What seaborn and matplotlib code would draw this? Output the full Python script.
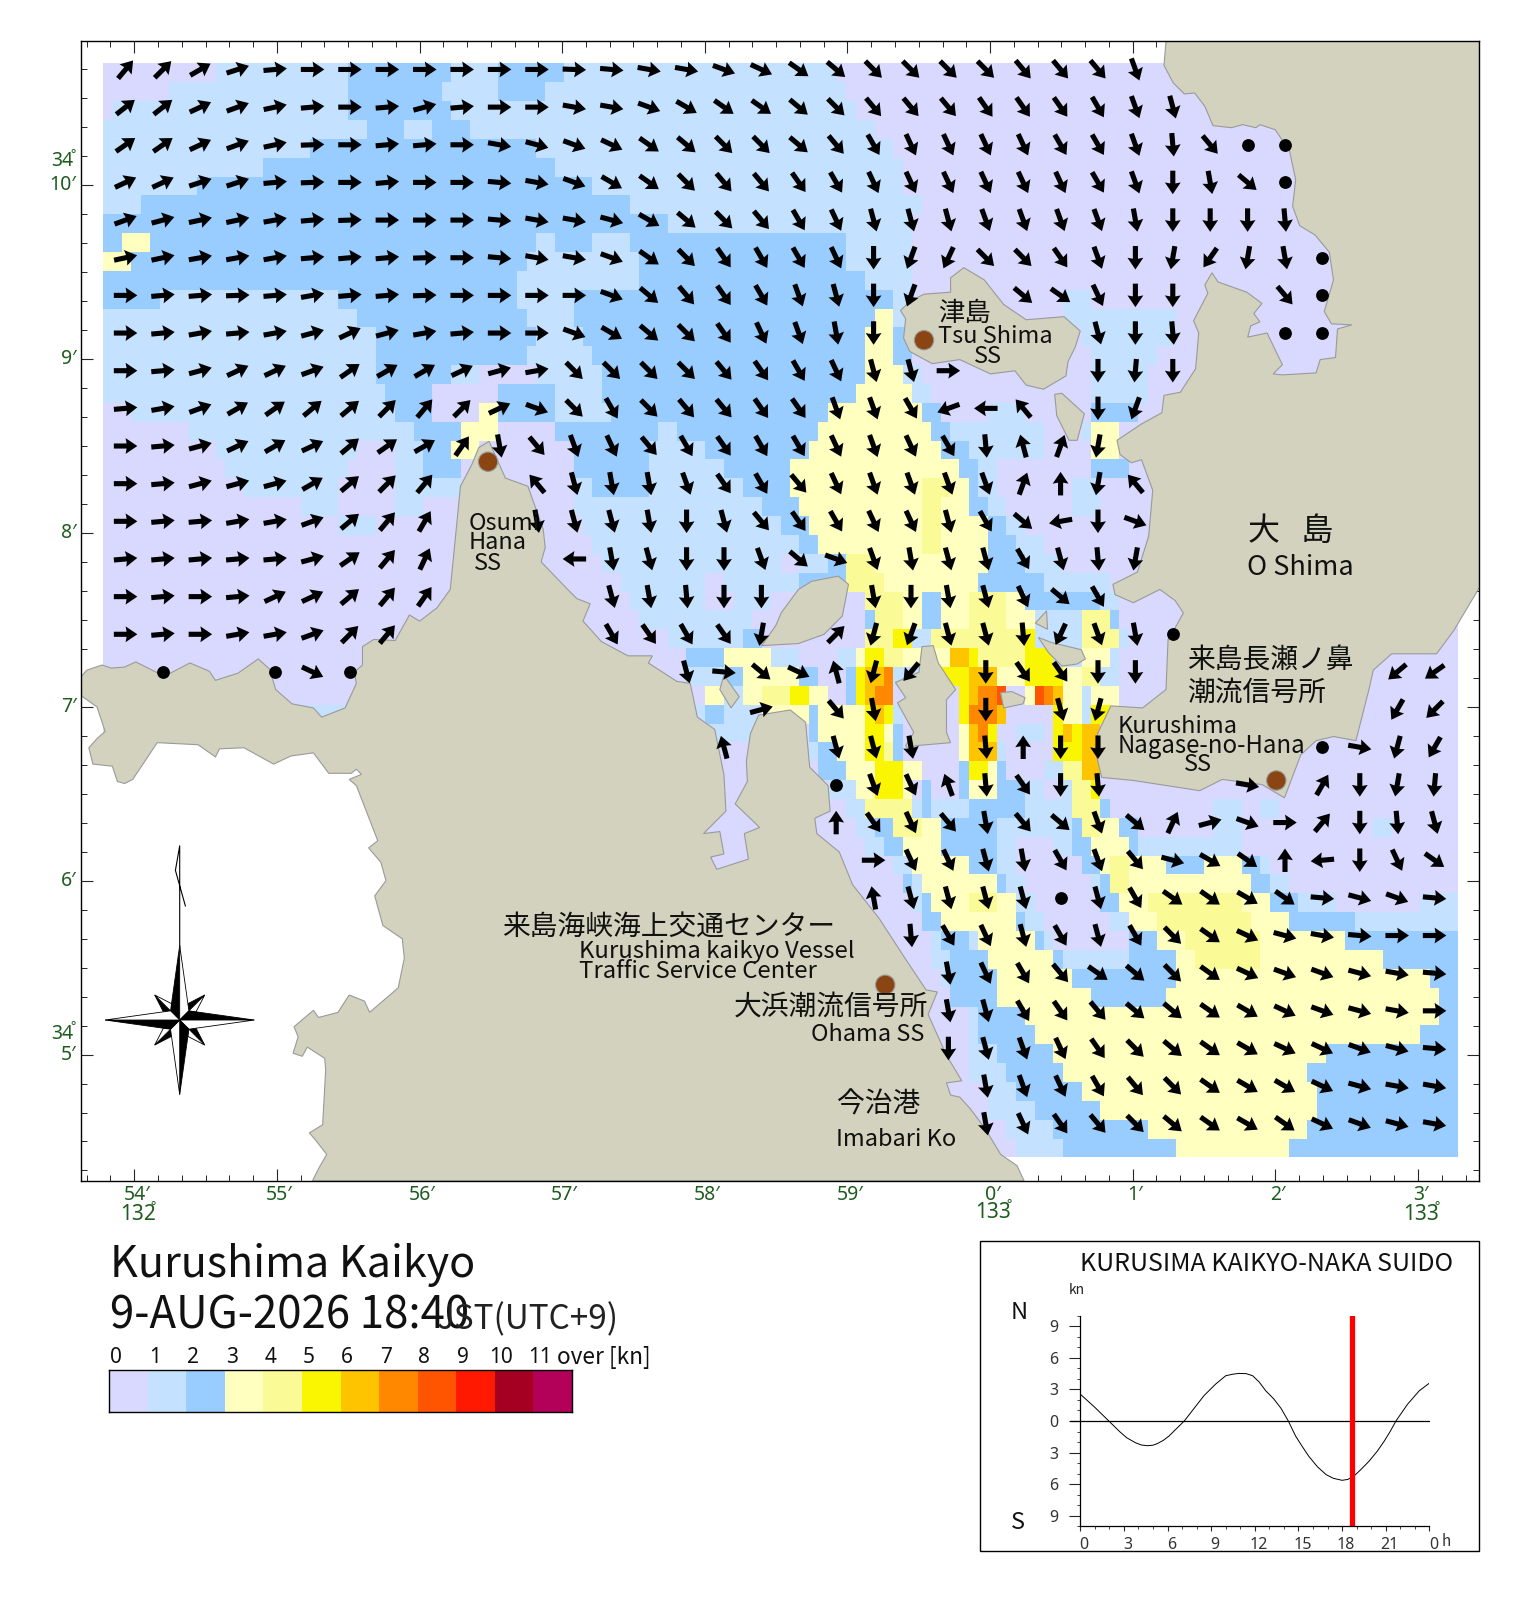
import numpy as np
import matplotlib
matplotlib.use("Agg")
import matplotlib.pyplot as plt
from matplotlib.colors import ListedColormap
from matplotlib.patches import Polygon, Circle, Rectangle
from matplotlib.transforms import ScaledTranslation
import seaborn as sns

sns.set_theme(style="white")
plt.rcParams["font.family"] = ["Noto Sans CJK JP", "DejaVu Sans"]

# canvas units used for everything below (1520x1602 image)
W, H = 1488.7, 1568.2
FRAME = (79, 40, 1449, 1156)
GRID = (101, 62, 1428, 1133)

SPEED_COLORS = ["#D9D9FF", "#C4E2FF", "#99CCFF", "#FFFFBF", "#FAFA96", "#FAF500",
                "#FFC400", "#FF8800", "#FF5500", "#FF1900", "#A50021", "#B30059"]
LEGEND_LABELS = ["0", "1", "2", "3", "4", "5", "6", "7", "8", "9", "10", "11"]
LAND_COLOR = "#D2D2BE"
LAND_EDGE = "#9A9A9A"
STATION_COLOR = "#8B4513"
TICK_GREEN = "#1E5C1E"

# speed class per row, "end column:class" (72 columns wide, x = no sea data)
SPEED_ROWS = [
    "6:0 13:1 18.5:2 21:1 24.5:2 39:1 72:0",
    "3.5:0 13:1 18:2 21:1 23.5:2 39.5:1 72:0",
    "0.5:0 13:1 18.5:2 40:1 72:0",
    "14:1 16:2 17.5:1 19.5:2 41:1 72:0",
    "11:1 23:2 42:1 72:0",
    "8.5:1 24:2 42.7:1 72:0",
    "5:1 26:2 42.7:1 72:0",
    "2:1 28:2 43.5:1 72:0",
    "30:2 43:1 72:0",
    "1:2 2.5:3 23:2 24:1 26:2 28:1 39.5:2 41:1 43:1 72:0",
    "1.5:3 22.5:2 28.7:1 39.7:2 43:1 72:0",
    "21.8:2 28.3:1 40.6:2 43:1 72:0",
    "3:2 12.4:1 21.8:2 25:1 41.8:2 43:1 51:0 52.6:1 72:0",
    "13.3:1 22.3:2 25:1 41:2 42:3 43:1 51:0 56.8:1 72:0",
    "14.4:1 22.8:2 25.3:1 40.6:2 42:3 43:2 52:0 56.8:1 72:0",
    "14.4:1 22.3:2 25.8:1 40.6:2 42:3 42.8:2 52.5:0 56:1 72:0",
    "14.4:1 18.5:2 20:1 23:0 26.7:1 40.6:2 42.7:3 43.3:1 52.5:0 55.5:1 72:0",
    "14.9:1 17.7:2 21:0 24:2 26.7:1 40:2 43:3 44:1 52.5:0 55.6:1 72:0",
    "1.5:0 15.5:1 17.5:2 19.8:0 21:3 24:2 27:1 38.5:2 43.5:3 44.5:2 47:0 49:1 52.6:0 55:2 72:0",
    "4.4:0 16.5:1 18.8:2 21:3 24:0 29.3:2 30.3:1 38:2 44:3 45.2:2 50:1 52:0 52.6:1 54:3 72:0",
    "6:0 13.5:1 15.3:0 16.8:1 18.5:2 20.2:3 25:0 29:2 32:1 37.5:2 44.5:3 46:2 50:1 52.6:0 54:3 72:0",
    "6.5:0 13:1 15.3:0 16.8:1 19.2:2 25:0 28.8:2 33:1 36.7:2 45.5:3 46.5:2 47.5:1 52.6:0 54.5:2 72:0",
    "7.4:0 12.4:1 15.3:0 19:1 25:0 26:1 28.8:2 34:1 36.7:2 43.6:3 45:4 46:3 46.6:2 47.5:1 51.6:0 53:1 72:0",
    "10.4:0 12.4:1 15.3:0 17:1 25:0 35:1 37.2:2 43.3:3 44.6:4 46:3 47.2:2 48:1 51.6:0 53:1 72:0",
    "12.4:0 14.4:1 25.5:0 36:1 37.7:2 43.3:3 44.6:4 46.8:3 48:2 49:1 72:0",
    "26:0 37:1 38:2 43.3:3 44.6:4 46.8:3 48.6:2 50:1 72:0",
    "26.5:0 36:1 37:0 38.5:1 39.7:2 41:4 47:3 49:2 51:1 72:0",
    "27.5:0 32:1 33:0 37:1 39.7:2 41.6:4 46.7:3 50:2 53.3:1 72:0",
    "27.8:0 32:1 33.5:0 35.5:1 40.6:0 42.7:4 43.6:3 44.6:2 46:3 48:4 49:3 53:2 54:1 72:0",
    "28.7:0 34.5:1 40.6:0 41.2:2 42.7:4 43.6:3 44.6:2 46:3 48.1:4 49.5:3 52:1 53.6:4 54:2 72:0",
    "30:0 34:1 34.8:2 40.6:0 42.2:4 43.1:5 44:1 49:4 49.7:5 52:1 54:4 54.5:1 72:0",
    "31:0 33:2 35.7:3 37:1 39:0 40.2:1 40.65:3 41.6:5 42.7:4 45:3 46.1:6 46.7:5 49:4 50.5:5 52:1 53.5:3 54:1 72:0",
    "31:0 33:1 34:2 37.2:3 37.8:2 39.7:0 40.2:2 40.65:5 41.6:6 42.2:7 44:1 46:5 47.6:6 49:3 51:5 52:3 53:4 54:1 72:0",
    "32:0 33:3 34:1 35:3 36.7:4 37.7:5 38.5:3 39.7:0 40.2:2 40.65:5 41:6 42.2:7 45.4:0 46:5 46.7:6 47.6:7 48.2:8 49:0 49.5:3 50:8 50.5:7 51:6 52:3 52.5:1 54:3 72:0",
    "32:1 33:2 35:1 37.5:3 38:2 40.65:3 41.1:5 41.6:6 42.2:5 42.7:1 45.6:0 46:5 47.6:7 47.9:6 50.5:0 51:5 52:3 52.5:1 53.5:5 54:3 72:0",
    "34.5:1 37.7:0 38.2:2 40.65:3 41.6:5 42.2:3 42.7:2 45.6:0 46:3 46.7:6 47.2:7 47.6:5 48.6:0 50:1 50.5:0 51.1:5 51.6:6 52:5 53.1:6 72:0",
    "25:x 37.5:0 38.2:1 38.8:2 40.65:3 41.6:5 42.2:4 42.7:2 45.6:0 46:3 47.6:6 48.2:1 50.4:0 52:5 53:6 72:0",
    "25:x 38:0 39.7:2 41.1:3 42.7:5 43.3:3 45.6:0 46:2 47.2:5 47.6:3 48:2 50.2:0 51:1 52:4 53:6 72:0",
    "25:x 38.5:0 39.8:1 40.2:2 41.1:3 42.7:5 43.1:3 43.6:0 44:2 45.6:0 46:2 47.6:3 49:2 50:1 51:0 51.6:1 52.6:4 53:5 72:0",
    "25:x 39.7:0 40.6:1 43.1:4 43.7:1 44.2:2 46.2:1 49:2 51.5:1 53.1:4 53.6:2 59:0 60.5:1 61.4:0 62.3:1 72:0",
    "25:x 40.2:0 41.2:1 42.2:2 43.6:4 44.6:3 47.6:2 51.7:1 52:2 53.1:4 54.2:3 54.8:2 59:0 60.5:1 67.4:0 68.3:1 72:0",
    "25:x 40.65:0 41.7:1 42.7:2 44.6:3 47.6:2 48.6:1 50.6:0 51.6:1 52.5:2 54.5:3 55.2:2 60.5:1 72:0",
    "25:x 42:0 43:1 46.2:3 47.6:2 48.6:1 52:0 53:2 53.6:3 54.5:4 56.5:3 58.5:2 60.5:3 61.4:2 62:1 72:0",
    "25:x 42.7:0 43.2:2 43.6:1 47.6:3 48.1:2 49:1 52.5:0 53:1 53.6:2 54.5:4 61:3 62:2 63:1 72:0",
    "25:x 43.1:0 43.6:1 44.1:2 46.1:3 47.6:4 48.6:3 49.5:1 53.1:0 54:2 55.6:3 60.5:4 62:3 63.5:2 65.4:1 70:0 72:1",
    "25:x 43.6:0 44.6:2 48.6:3 49:2 50:1 53.6:0 54.5:1 56:3 61:4 63:3 66.4:2 72:1",
    "25:x 44:0 44.6:1 46:2 46.6:1 49.5:3 50:2 50.6:1 54.5:0 56:2 57.5:3 61.4:4 65.8:3 72:2",
    "25:x 44:0 45:1 47.2:2 50.5:3 51:2 54.5:1 57:2 58:3 61.4:4 68:3 72:2",
    "25:x 44.6:0 45.2:1 47.6:2 51.7:3 57:2 70.4:3 72:2",
    "25:x 45.2:0 47.6:2 52.6:3 56.5:2 70.9:3 72:2",
    "25:x 45.8:0 46.6:1 49:2 70.9:3 72:2",
    "25:x 46:0 46.6:1 49.7:2 70:3 72:2",
    "25:x 46.2:0 47.6:1 50.6:2 65:3 72:2",
    "25:x 46.2:0 48:1 51.1:2 64:3 72:2",
    "25:x 46.8:0 48.5:1 52:2 64.5:3 72:2",
    "25:x 46.8:0 49.6:1 53:2 64.5:3 72:2",
    "25:x 48:0 50.5:1 55.5:2 64:3 72:2",
    "25:x 48.5:0 51:1 57:2 63:3 72:2",
]

# current bearing in degrees at each arrow site: (first column, values)
# "-" no arrow, "o" slack water dot
ARROW_ROWS = [
    (0, "40 45 60 72 85 90 90 90 90 90 90 90 92 95 100 100 110 115 125 130 135 135 135 135 140 140 140 160"),
    (0, "52 52 65 70 78 85 90 85 75 85 90 90 100 100 110 120 125 125 130 135 140 140 140 145 145 145 150 160 165"),
    (0, "55 55 65 70 78 88 90 85 85 90 100 105 110 115 125 130 135 135 130 140 150 155 155 155 155 150 150 160 175 140 o o"),
    (0, "65 65 72 72 85 88 90 85 90 90 95 100 110 120 125 135 140 140 145 150 155 155 155 155 155 155 150 160 180 170 130 o"),
    (0, "70 75 78 78 80 85 88 90 90 90 95 100 100 105 120 130 135 140 150 155 165 165 165 160 160 160 160 170 180 180 180 175"),
    (0, "78 78 80 80 80 85 85 85 88 90 95 100 100 110 125 135 145 150 150 155 180 200 205 135 135 145 160 180 190 215 190 170 o"),
    (0, "90 85 85 88 85 80 85 85 88 90 90 90 90 110 130 140 145 150 160 165 180 200 - - 130 125 155 180 180 - - 140 o"),
    (0, "90 85 80 85 80 75 65 75 80 85 90 90 110 120 130 135 145 155 160 170 180 - - - - - 165 180 175 - - o o"),
    (0, "90 85 75 65 65 70 55 60 60 65 75 80 135 135 135 135 140 145 150 155 165 165 90 - - - 180 185 180"),
    (0, "85 80 70 60 55 50 50 45 40 45 65 110 135 150 135 140 140 145 145 160 160 150 250 270 320 - 180 200"),
    (0, "90 85 75 65 60 65 50 55 60 35 170 140 160 155 140 150 145 150 150 155 160 155 150 175 345 20 190"),
    (0, "90 85 75 75 75 60 50 45 40 - - 320 165 170 170 160 145 150 140 155 160 160 160 160 20 0 190 320"),
    (0, "90 85 85 80 80 70 50 40 30 - - 170 165 165 170 180 165 140 145 150 155 155 165 150 130 260 180 110"),
    (0, "85 85 85 85 85 75 55 40 25 - - - 270 170 165 180 180 160 130 110 160 170 165 165 150 165 175 190"),
    (0, "90 85 90 85 65 65 50 40 35 - - - - 165 170 175 180 180 - - 170 180 170 165 155 130 150"),
    (0, "90 85 90 80 80 70 45 40 - - - - - 150 145 150 145 190 - 45 195 200 165 165 175 205 160 170 o"),
    (1, "o - - o 115 o - - - - - - - - 165 95 130 115 345 195 220 - 180 145 145 180 180 - - - - - - 230 235"),
    (17, "75 - 140 170 - - 180 - 165 195 - - - - - - - 210 225"),
    (16, "345 - - 165 165 170 - 175 0 180 180 - - - - - o 100 195 210"),
    (19, "o 160 155 340 175 145 180 175 - - - 100 - 30 180 190 185"),
    (19, "0 145 155 140 170 140 130 160 130 25 75 110 90 40 180 175 165"),
    (20, "90 155 155 165 170 150 160 140 105 120 125 0 265 180 155 125"),
    (20, "350 165 165 165 165 o 165 150 125 125 120 125 95 105 110 95"),
    (21, "175 150 155 165 150 165 150 135 125 115 105 100 95 90 90"),
    (22, "170 155 150 140 125 130 135 125 115 110 110 105 100 95"),
    (22, "170 165 150 145 140 130 130 125 120 115 110 105 100 90"),
    (22, "180 165 160 155 145 135 130 125 120 115 115 110 105 95"),
    (23, "170 160 155 150 140 135 125 120 120 115 105 100 100"),
    (23, "170 155 145 140 135 130 125 120 125 115 110 105 100"),
]
ARROW_X0, ARROW_DX = 123.0, 36.63
ARROW_Y0, ARROW_DY = 68.0, 36.86

# traced coastlines
LAND_MAIN = [(78, 664), (85, 656), (100, 651), (109, 654), (122, 653), (133, 648), (161, 662), (186, 649),
             (205, 657), (211, 666), (233, 659), (253, 645), (264, 655), (270, 675), (286, 689), (307, 693),
             (315, 702), (338, 693), (349, 669), (347, 658), (355, 651), (355, 633), (366, 626), (387, 627),
             (401, 602), (411, 608), (428, 595), (441, 577), (451, 476), (462, 455), (469, 438), (479, 432),
             (486, 448), (495, 468), (517, 476), (532, 518), (534, 536), (530, 550), (556, 577), (565, 586),
             (578, 591), (571, 608), (589, 628), (615, 642), (639, 642), (635, 649), (663, 667), (676, 669),
             (683, 702), (700, 714), (709, 758), (711, 794), (689, 816), (705, 814), (709, 836), (696, 839),
             (702, 851), (733, 841), (729, 816), (744, 810), (720, 787), (732, 765), (731, 745), (735, 718),
             (743, 700), (774, 695), (789, 707), (793, 751), (811, 769), (813, 794), (798, 801), (800, 816),
             (822, 834), (835, 866), (861, 899), (887, 939), (907, 969), (918, 971), (909, 993), (927, 1033),
             (942, 1058), (927, 1060), (931, 1072), (940, 1074), (950, 1085), (965, 1105), (980, 1130), (996, 1141),
             (1003, 1156), (306, 1156), (312, 1144), (320, 1130), (309, 1116), (303, 1109), (316, 1101), (319, 1047),
             (318, 1036), (301, 1025), (296, 1034), (287, 1031), (292, 1015), (288, 1005), (307, 989), (312, 996),
             (331, 991), (342, 974), (357, 980), (362, 991), (390, 967), (396, 938), (394, 919), (375, 906),
             (367, 877), (378, 862), (373, 844), (361, 830), (370, 823), (349, 769), (342, 763), (354, 758),
             (349, 753), (344, 757), (322, 757), (307, 737), (285, 740), (268, 748), (239, 732), (215, 733),
             (211, 741), (194, 729), (154, 727), (130, 763), (122, 767), (115, 765), (110, 750), (91, 748),
             (87, 732), (95, 723), (103, 716), (95, 692), (78, 680)]
LAND_OSHIMA = [(1142, 40), (1140, 64), (1149, 81), (1160, 92), (1170, 91), (1180, 104), (1188, 123), (1206, 125),
               (1217, 122), (1230, 125), (1234, 122), (1249, 127), (1263, 148), (1269, 176), (1266, 202),
               (1273, 221), (1288, 230), (1302, 247), (1306, 274), (1297, 305), (1304, 317), (1324, 318),
               (1310, 322), (1308, 350), (1293, 352), (1289, 365), (1256, 367), (1247, 366), (1256, 357),
               (1241, 326), (1222, 330), (1225, 319), (1234, 315), (1228, 307), (1236, 297), (1221, 286),
               (1193, 276), (1187, 267), (1180, 279), (1183, 287), (1169, 314), (1174, 326), (1171, 361),
               (1156, 384), (1140, 387), (1138, 404), (1118, 415), (1094, 431), (1097, 445), (1108, 453),
               (1118, 450), (1129, 480), (1125, 525), (1114, 560), (1090, 572), (1092, 582), (1110, 590),
               (1136, 577), (1151, 588), (1159, 600), (1149, 618), (1144, 626), (1142, 675), (1119, 693),
               (1088, 691), (1075, 718), (1073, 736), (1079, 761), (1110, 764), (1175, 774), (1197, 763),
               (1236, 768), (1258, 781), (1274, 739), (1289, 725), (1306, 721), (1328, 725), (1341, 674),
               (1345, 656), (1363, 640), (1407, 640), (1424, 617), (1449, 575), (1449, 40)]
LAND_TSUSHIMA = [(944, 262), (931, 272), (931, 286), (905, 288), (891, 295), (882, 304), (887, 312), (885, 331),
                 (891, 344), (913, 356), (940, 352), (970, 366), (994, 363), (1005, 377), (1022, 381), (1044, 368),
                 (1046, 354), (1053, 340), (1058, 324), (1042, 310), (1005, 313), (983, 298), (964, 274)]
LAND_SMALL_A = [(1033, 386), (1040, 385), (1062, 405), (1055, 431), (1047, 431), (1035, 407)]
LAND_UMA = [(903, 633), (914, 632), (919, 649), (936, 675), (927, 685), (927, 717), (931, 727), (896, 730),
            (895, 740), (887, 730), (895, 717), (879, 688), (887, 683), (877, 668), (900, 658)]
LAND_W_ISLE = [(746, 632), (760, 612), (765, 600), (782, 577), (795, 569), (821, 564), (831, 572), (825, 603),
               (807, 621), (782, 630)]
LAND_SMALL_B = [(980, 678), (991, 677), (1004, 683), (1002, 689), (983, 693)]
LAND_SMALL_C = [(1017, 624), (1030, 629), (1059, 636), (1063, 645), (1055, 650), (1040, 652), (1027, 639)]
LAND_SMALL_D = [(1025, 598), (1026, 616), (1014, 610)]
LAND_SMALL_E = [(709, 661), (724, 682), (716, 693), (705, 675)]

STATIONS = [(905, 333), (478, 452), (1250, 764), (867, 964)]

LON_MAJOR = [131.5 + 139.7 * n for n in range(10)]
LON_LABELS = ["54′", "55′", "56′", "57′", "58′", "59′", "0′", "1′", "2′", "3′"]
LAT_MAJOR = [181.3, 351.4, 521.5, 691.7, 862.0, 1032.5]
LAT_LABELS = ["10′", "9′", "8′", "7′", "6′", "5′"]

TIDE_HOURS = [0, 1, 2, 2.7, 3.2, 3.8, 4.2, 4.6, 5, 5.3, 5.7, 6.1, 7.15, 8.5, 9.3, 10, 10.5, 10.9, 11.4, 11.85, 12.3,
              12.75, 13.3, 13.8, 14.3, 14.8, 15.2, 15.7, 16.3, 16.9, 17.4, 18, 18.4, 18.8, 19.3, 19.85, 20.4, 20.9,
              21.3, 21.7, 22.5, 23.3, 24]
TIDE_KN = [2.55, 1.3, -0.05, -1.0, -1.6, -2.07, -2.28, -2.35, -2.3, -2.15, -1.85, -1.43, 0, 2.4, 3.5, 4.3, 4.45, 4.52,
           4.5, 4.3, 3.7, 2.87, 2.1, 1.2, 0, -1.43, -2.3, -3.34, -4.35, -5.1, -5.45, -5.64, -5.55, -5.25, -4.6,
           -3.82, -2.9, -1.9, -1.0, 0, 1.6, 2.87, 3.6]
NOW_HOUR = 18.67


def place(fig, x0, y0, x1, y1, **kw):
    return fig.add_axes([x0 / W, 1 - y1 / H, (x1 - x0) / W, (y1 - y0) / H], **kw)


def decode_speed(rows):
    out = np.full((len(rows), 144), np.nan)
    for r, row in enumerate(rows):
        start = 0
        for tok in row.split():
            end, cls = tok.split(":")
            end = int(round(float(end) * 2))
            if cls != "x":
                out[r, start:end] = float(cls)
            start = end
    return out


def decode_arrows(rows):
    xs, ys, bearings, dots = [], [], [], []
    for r, (first, values) in enumerate(rows):
        for c, val in enumerate(values.split(), start=first):
            x = ARROW_X0 + ARROW_DX * c
            y = ARROW_Y0 + ARROW_DY * r
            if val == "o":
                dots.append((x, y))
            elif val != "-":
                xs.append(x)
                ys.append(y)
                bearings.append(float(val))
    return np.array(xs), np.array(ys), np.radians(bearings), dots


def draw_compass(ax, cx, cy):
    # long points: one half black, the other white, rotated four times
    ax.plot([cx, cx, cx - 4.2, cx + 5.6], [929, 828, 852, 887], color="black", lw=0.8, zorder=4)
    for k in range(4):
        c, s = np.cos(k * np.pi / 2), np.sin(k * np.pi / 2)
        rot = lambda p: (cx + p[0] * c - p[1] * s, cy + p[0] * s + p[1] * c)
        ax.add_patch(Polygon([rot(p) for p in [(0, 0), (0, -73), (-9, -9)]], fc="black", ec="black", lw=0.6, zorder=5))
        ax.add_patch(Polygon([rot(p) for p in [(0, 0), (0, -73), (9, -9)]], fc="white", ec="black", lw=0.6, zorder=5))
        ax.add_patch(Polygon([rot(p) for p in [(8, -8), (24.5, -24.5), (8, -16)]], fc="black", ec="black", lw=0.6, zorder=4))
        ax.add_patch(Polygon([rot(p) for p in [(8, -8), (24.5, -24.5), (16, -8)]], fc="white", ec="black", lw=0.6, zorder=4))


fig = plt.figure(figsize=(15.2, 16.02), dpi=100, facecolor="white")
cmap = ListedColormap(SPEED_COLORS)

# sea speed cells
ax_grid = place(fig, *GRID, zorder=1)
speed = decode_speed(SPEED_ROWS)
sns.heatmap(speed, ax=ax_grid, cmap=cmap, vmin=-0.5, vmax=11.5, cbar=False,
            mask=np.isnan(speed), xticklabels=False, yticklabels=False)
ax_grid.axis("off")

# land, arrows, text all in canvas units on the framed map axes
ax = place(fig, FRAME[0], FRAME[1], FRAME[2], FRAME[3], zorder=2)
ax.patch.set_alpha(0)
ax.set_xlim(FRAME[0], FRAME[2])
ax.set_ylim(FRAME[3], FRAME[1])
for land in [LAND_MAIN, LAND_OSHIMA, LAND_TSUSHIMA, LAND_SMALL_A, LAND_UMA, LAND_W_ISLE,
             LAND_SMALL_B, LAND_SMALL_C, LAND_SMALL_D, LAND_SMALL_E]:
    ax.add_patch(Polygon(land, closed=True, fc=LAND_COLOR, ec=LAND_EDGE, lw=0.8, zorder=2))

xs, ys, rad, dots = decode_arrows(ARROW_ROWS)
ax.quiver(xs, ys, 23 * np.sin(rad), -23 * np.cos(rad), angles="xy", scale_units="xy", scale=1,
          units="xy", width=5.0, headwidth=3.1, headlength=2.3, headaxislength=2.1,
          pivot="mid", color="black", zorder=3)
ax.scatter([d[0] for d in dots], [d[1] for d in dots], s=85, color="black", zorder=3, linewidths=0)

for sx, sy in STATIONS:
    ax.add_patch(Circle((sx, sy), 9.5, fc=STATION_COLOR, ec=LAND_EDGE, lw=0.8, zorder=4))

draw_compass(ax, 176, 998.5)

# frame ticks every 10 seconds
for side in ax.spines.values():
    side.set_visible(True)
    side.set_color("black")
    side.set_linewidth(1.0)
ax.set_xticks(LON_MAJOR, labels=LON_LABELS)
ax.set_yticks(LAT_MAJOR, labels=LAT_LABELS)
ax.set_xticks([x for x in np.arange(LON_MAJOR[0] - 139.7, FRAME[2], 139.7 / 6) if x > FRAME[0]], minor=True)
ax.set_yticks([y for y in np.arange(LAT_MAJOR[0] - 170.2, FRAME[3], 170.2 / 6) if y > FRAME[1]], minor=True)
ax.tick_params(which="major", direction="in", length=8.8, width=0.8, top=True, right=True,
               bottom=True, left=True, labelsize=14, labelcolor=TICK_GREEN, pad=3)
ax.tick_params(which="minor", direction="in", length=4.4, width=0.7, top=True, right=True,
               bottom=True, left=True)
shift_x = ScaledTranslation(2.5 / 100, 0, fig.dpi_scale_trans)
shift_y = ScaledTranslation(0, 2.5 / 100, fig.dpi_scale_trans)
for lab in ax.get_xticklabels():
    lab.set_family("Noto Sans")
    lab.set_transform(lab.get_transform() + shift_x)
for lab in ax.get_yticklabels():
    lab.set_family("Noto Sans")
    lab.set_transform(lab.get_transform() + shift_y)

# degree labels
for tx, ty, txt in [(135, 1189, "132"), (973, 1187, "133"), (1392, 1189, "133")]:
    ax.text(tx, ty, txt, color=TICK_GREEN, fontsize=15, family="Noto Sans", ha="center", va="center", clip_on=False)
    ax.text(tx + 15, ty - 8, "°", color=TICK_GREEN, fontsize=9, family="Noto Sans", ha="center", va="center", clip_on=False)
for tx, ty in [(61, 158), (61, 1012)]:
    ax.text(tx, ty, "34", color=TICK_GREEN, fontsize=14, family="Noto Sans", ha="center", va="center", clip_on=False)
    ax.text(tx + 11, ty - 7, "°", color=TICK_GREEN, fontsize=9, family="Noto Sans", ha="center", va="center", clip_on=False)

# place names (x left, y centre, size)
LABELS = [
    (919, 307, "津島", 19), (919, 329, "Tsu Shima", 17), (954, 349, "SS", 17),
    (459, 512, "Osumi", 17), (459, 531, "Hana", 17), (464, 552, "SS", 17),
    (1222, 520, "大   島", 23), (1221, 556, "O Shima", 19.5),
    (1163, 647, "来島長瀬ノ鼻", 20), (1163, 678, "潮流信号所", 20),
    (1095, 711, "Kurushima", 17), (1095, 730, "Nagase-no-Hana", 17.3), (1160, 748, "SS", 17),
    (492, 907, "来島海峡海上交通センター", 20), (567, 931, "Kurushima kaikyo Vessel", 17.2),
    (567, 951, "Traffic Service Center", 17.2), (719, 985, "大浜潮流信号所", 20),
    (794, 1013, "Ohama SS", 17), (820, 1081, "今治港", 20), (819, 1115, "Imabari Ko", 17),
]
for lx, ly, txt, size in LABELS:
    ax.text(lx, ly, txt, fontsize=size, color="#111111", va="center", ha="left", zorder=6)

# title block
ax.text(108, 1238, "Kurushima Kaikyo", fontsize=31, color="#111111", va="center", clip_on=False)
ax.text(108, 1288, "9-AUG-2026 18:40", fontsize=31.5, color="#111111", va="center", clip_on=False)
ax.text(428, 1292, "JST(UTC+9)", fontsize=24, color="#222222", va="center", clip_on=False)

# speed legend
ax_leg = place(fig, 107, 1341, 560, 1382, zorder=3)
sns.heatmap(np.arange(12).reshape(1, -1), ax=ax_leg, cmap=cmap, vmin=-0.5, vmax=11.5, cbar=False,
            xticklabels=False, yticklabels=False)
for side in ax_leg.spines.values():
    side.set_visible(True)
    side.set_color("black")
    side.set_linewidth(1.0)
for i, lab in enumerate(LEGEND_LABELS):
    ax.text(114 + 37.7 * i, 1329, lab, fontsize=15, family="Noto Sans", color="#111111",
            ha="center", va="center", clip_on=False)
ax.text(546, 1329, "over [kn]", fontsize=16.3, color="#111111", va="center", clip_on=False)

# tidal curve panel
ax.add_patch(Rectangle((960, 1215), 489, 303, fc="none", ec="black", lw=1.0, clip_on=False))
ax.text(1058, 1237, "KURUSIMA KAIKYO-NAKA SUIDO", fontsize=18, color="#111111", va="center", clip_on=False)
ax.text(1047, 1263, "kn", fontsize=10, color="#222222", va="center", clip_on=False)
ax.text(990, 1285, "N", fontsize=17, color="#111111", va="center", clip_on=False)
ax.text(990, 1490, "S", fontsize=17, color="#111111", va="center", clip_on=False)
ax.text(1412, 1509, "h", fontsize=11, color="#333333", va="center", clip_on=False)

ax_tide = place(fig, 1058, 1288, 1400, 1494, zorder=3)
ax_tide.patch.set_alpha(0)
sns.lineplot(x=TIDE_HOURS, y=TIDE_KN, ax=ax_tide, color="black", lw=0.7, errorbar=None)
ax_tide.plot([-0.73, 24], [0, 0], color="black", lw=0.9, clip_on=False)
ax_tide.axvline(NOW_HOUR, color="#FF0000", lw=3.8)
ax_tide.set_xlim(0, 24)
ax_tide.set_ylim(-10, 10)
ax_tide.set_xticks(range(0, 25, 3), labels=["0", "3", "6", "9", "12", "15", "18", "21", "0"])
ax_tide.set_xticks(range(0, 25), minor=True)
ax_tide.set_yticks([-9, -6, -3, 0, 3, 6, 9], labels=["9", "6", "3", "0", "3", "6", "9"])
ax_tide.set_yticks(range(-10, 11), minor=True)
ax_tide.tick_params(which="major", length=7.7, width=0.8, labelsize=11.5, labelcolor="#333333",
                    left=True, bottom=True)
ax_tide.tick_params(axis="y", which="major", pad=8)
ax_tide.tick_params(axis="x", which="major", length=3.5, pad=4)
ax_tide.tick_params(which="minor", length=2.5, width=0.6, left=True, bottom=True)
shift_t = ScaledTranslation(4 / 100, 0, fig.dpi_scale_trans)
for lab in ax_tide.get_xticklabels():
    lab.set_family("Noto Sans")
    lab.set_transform(lab.get_transform() + shift_t)
for lab in ax_tide.get_yticklabels():
    lab.set_family("Noto Sans")
sns.despine(ax=ax_tide)
for name in ["left", "bottom"]:
    ax_tide.spines[name].set_color("black")
    ax_tide.spines[name].set_linewidth(0.9)

fig.savefig("out.png", dpi=100)
